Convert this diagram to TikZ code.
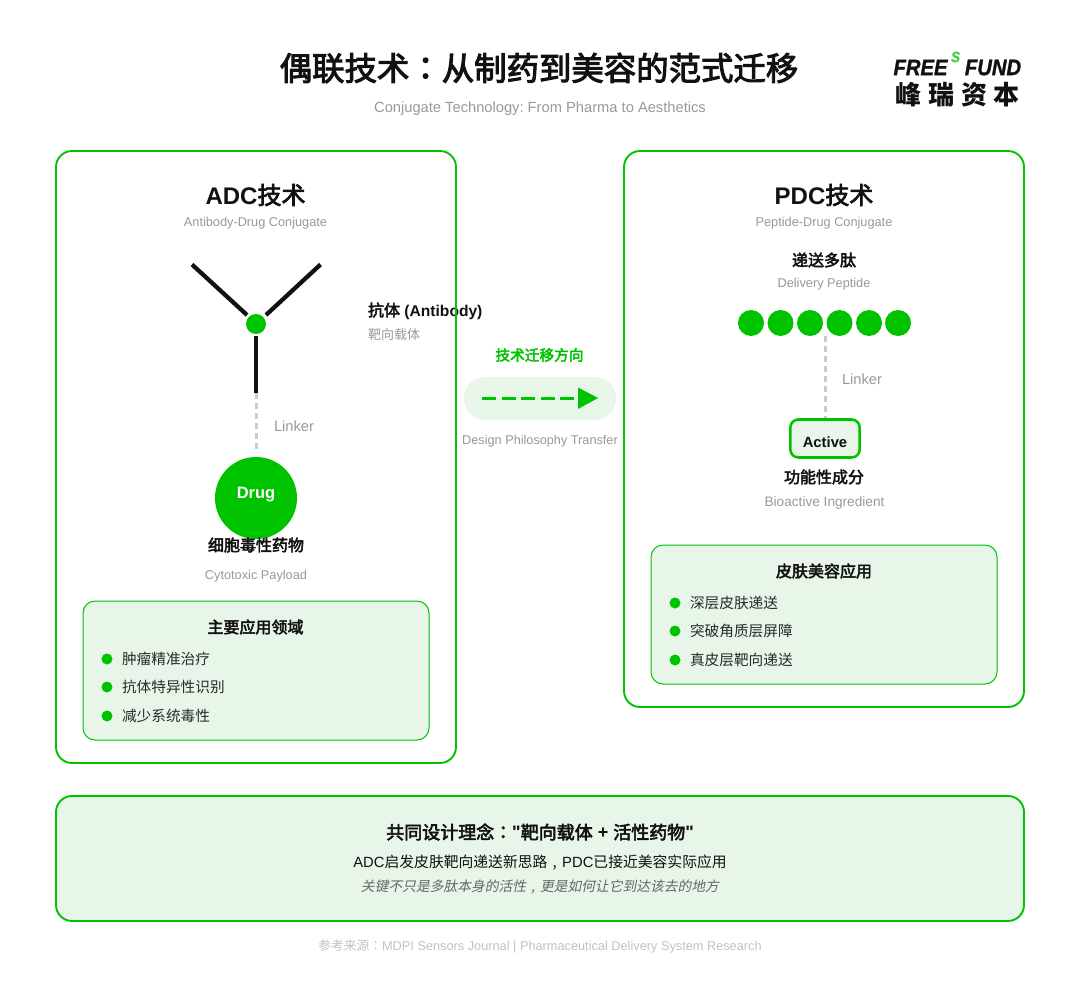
\documentclass[tikz,border=0pt]{standalone}
\usepackage{fontspec}
\usetikzlibrary{calc}
\setmainfont{Liberation Sans}
\newfontfamily\lat{Liberation Sans}
\newfontfamily\logof[FakeStretch=0.9,FakeBold=1.2]{Liberation Sans}
\newfontfamily\cjk{Noto Sans CJK SC}
\newfontfamily\cjkb[FakeBold=3]{Noto Sans CJK SC}
\newfontfamily\cjkt{Noto Sans CJK TC}
\newfontfamily\cjktb[FakeBold=3]{Noto Sans CJK TC}
\newfontfamily\cjkit[FakeSlant=0.2]{Noto Sans CJK SC}
\newcommand{\px}[1]{\fontsize{\dimexpr#1pt*3/4\relax}{\dimexpr#1pt\relax}\selectfont}
\newcommand{\lowcomma}{\makebox[1em][c]{,}}
\definecolor{brand}{HTML}{00C300}
\definecolor{lightg}{HTML}{E8F5E9}
\definecolor{ink}{HTML}{111111}
\definecolor{body}{HTML}{2A2A2A}
\definecolor{mute}{HTML}{999999}
\definecolor{dashg}{HTML}{CCCCCC}
\tikzset{
  txt/.style={inner sep=0pt,outer sep=0pt,text=ink,align=center,font=\frenchspacing},
  lefttxt/.style={txt,anchor=west},
  panel/.style={draw=brand,line width=1.4pt,rounded corners=12pt},
  inner box/.style={draw=brand,line width=0.75pt,fill=lightg,rounded corners=9pt},
  arm/.style={draw=ink,line width=3.2pt},
  linker/.style={draw=dashg,line width=2.25pt,dash pattern=on 4.5pt off 3pt},
  dot/.style={circle,fill=brand,inner sep=0pt,minimum size=#1*0.75pt},
}
\begin{document}
\begin{tikzpicture}[x=0.75pt,y=-0.75pt]
\path[use as bounding box,fill=white] (0,0) rectangle (1080,998);
% header
\node[txt] (title) at (539,68) {\px{32.4}\cjkb 偶联技术{\cjktb ：}从制药到美容的范式迁移};
\node[txt,text=mute] (subtitle) at (540,108.5) {\px{14.7}Conjugate Technology: From Pharma to Aesthetics};
% logo
\node[txt] (logoa) at (920.5,67.5) {\px{22.5}\logof\bfseries\itshape FREE};
\node[txt] (logob) at (993,67.5) {\px{22.5}\logof\bfseries\itshape FUND};
\node[txt,text=brand!75!white] (logos) at (955.5,57) {\px{15}\logof\bfseries\itshape S};
\node[txt] (la) at (908,95) {\px{26}\cjk\bfseries 峰};
\node[txt] (lb) at (941,95) {\px{26}\cjk\bfseries 瑞};
\node[txt] (lc) at (974,95) {\px{26}\cjk\bfseries 资};
\node[txt] (ld) at (1006.5,95) {\px{26}\cjk\bfseries 本};
% labels under the panel border
\node[lefttxt] (ablabel) at (368,311) {\px{16}{\cjkb 抗体} {\px{15.6}\bfseries (Antibody)}};
% panels
\draw[panel] (56,151) rectangle (456,763);
\draw[panel] (624,151) rectangle (1024,707);
\draw[panel,fill=lightg] (56,796) rectangle (1024,921);
% ADC
\node[txt] (adc) at (255.5,195) {\px{24}{\bfseries ADC}{\cjkb 技术}};
\node[txt,text=mute] (adcsub) at (255.5,223) {\px{12.75}Antibody-Drug Conjugate};
\coordinate (arml) at (192,264.5);
\coordinate (armr) at (320.5,264.5);
\coordinate (stem) at (256,393);
\node[dot=20] (hinge) at (256,324) {};
\draw[arm] (arml) -- ($(hinge.center)+(-9,-9)$);
\draw[arm] (armr) -- ($(hinge.center)+(10,-9)$);
\draw[arm] (stem) -- ($(hinge.center)+(0,12)$);
\node[dot=82] (drug) at (256,498) {};
\draw[linker,shorten >=3pt] (stem) -- (drug.north);
\node[txt,text=white] (drugt) at (256,495) {\px{16.5}\bfseries Drug};
\node[lefttxt,text=mute] (absub) at (368,335) {\px{13}\cjk 靶向载体};
\node[lefttxt,text=mute] (linkl) at (274,426) {\px{14.7}Linker};
\node[txt] (payload) at (256,545) {\px{16}\cjkb 细胞毒性药物};
\node[txt,text=mute] (payloads) at (256,576) {\px{12.75}Cytotoxic Payload};
\draw[inner box] (83,601) rectangle (429,740);
\node[txt] (lhead) at (255.5,627) {\px{16}\cjkb 主要应用领域};
\node[dot=11] (b1) at (107,659) {};
\node[dot=11] (b2) at (107,687) {};
\node[dot=11] (b3) at (107,716) {};
\node[lefttxt,text=body] (t1) at (122,659) {\px{14.67}\cjk 肿瘤精准治疗};
\node[lefttxt,text=body] (t2) at (122,687) {\px{14.67}\cjk 抗体特异性识别};
\node[lefttxt,text=body] (t3) at (122,716) {\px{14.67}\cjk 减少系统毒性};
% middle
\node[txt,text=brand] (mid) at (539.5,355) {\px{14.7}\cjkb 技术迁移方向};
\fill[lightg,rounded corners=16pt] (464,377) rectangle (616,420);
\coordinate (ds) at (482,398);
\coordinate (de) at (578,398);
\draw[draw=brand,line width=2.25pt,dash pattern=on 10.5pt off 4.2pt] (ds) -- (de);
\fill[brand] (578,387.5) -- (598,398) -- (578,409) -- cycle;
\node[txt,text=mute] (dpt) at (540,441) {\px{12.7}Design Philosophy Transfer};
% PDC
\node[txt] (pdc) at (824,195) {\px{24}{\bfseries PDC}{\cjkb 技术}};
\node[txt,text=mute] (pdcsub) at (824,223) {\px{12.75}Peptide-Drug Conjugate};
\node[txt] (pep) at (824,260) {\px{16}\cjkb 递送多肽};
\node[txt,text=mute] (peps) at (824,284) {\px{12.75}Delivery Peptide};
\foreach \n/\x in {1/751,2/780.5,3/810,4/839.5,5/869,6/898}
  \node[dot=26] (p\n) at (\x,323) {};
\coordinate (ptop) at (825,336);
\node[draw=brand,line width=1.9pt,fill=lightg,rounded corners=6pt,minimum width=52pt,minimum height=28.5pt,inner sep=0pt] (act) at (825,438.5) {};
\draw[linker] (ptop) -- (act.north);
\node[txt] (actt) at (825,442) {\px{14.8}\bfseries Active};
\node[lefttxt,text=mute] (linkr) at (842,379) {\px{14.7}Linker};
\node[txt] (func) at (824,477) {\px{16}\cjkb 功能性成分};
\node[txt,text=mute] (funcs) at (824.5,503) {\px{13.65}Bioactive Ingredient};
\draw[inner box] (651,545) rectangle (997,684);
\node[txt] (rhead) at (824,571) {\px{16}\cjkb 皮肤美容应用};
\node[dot=11] (c1) at (675,603) {};
\node[dot=11] (c2) at (675,631) {};
\node[dot=11] (c3) at (675,660) {};
\node[lefttxt,text=body] (u1) at (690,603) {\px{14.67}\cjk 深层皮肤递送};
\node[lefttxt,text=body] (u2) at (690,631) {\px{14.67}\cjk 突破角质层屏障};
\node[lefttxt,text=body] (u3) at (690,660) {\px{14.67}\cjk 真皮层靶向递送};
% bottom
\node[txt] (bh) at (540,832) {\px{18}{\cjkb 共同设计理念}{\cjktb ：}{\lat\bfseries "}{\cjkb 靶向载体}{\bfseries\ +\ }{\cjkb 活性药物}{\lat\bfseries "}};
\node[txt] (bl) at (540,862.5) {\px{14.8}ADC{\cjk 启发皮肤靶向递送新思路\lowcomma}PDC{\cjk 已接近美容实际应用}};
\node[txt,text=black!60] (bi) at (540,887) {\px{13.77}\cjkit 关键不只是多肽本身的活性\lowcomma 更是如何让它到达该去的地方};
\node[txt,text=dashg!95!black] (foot) at (540,946) {\px{12.75}{\cjk 参考来源}{\cjkt ：}MDPI Sensors Journal | Pharmaceutical Delivery System Research};
\end{tikzpicture}
\end{document}
